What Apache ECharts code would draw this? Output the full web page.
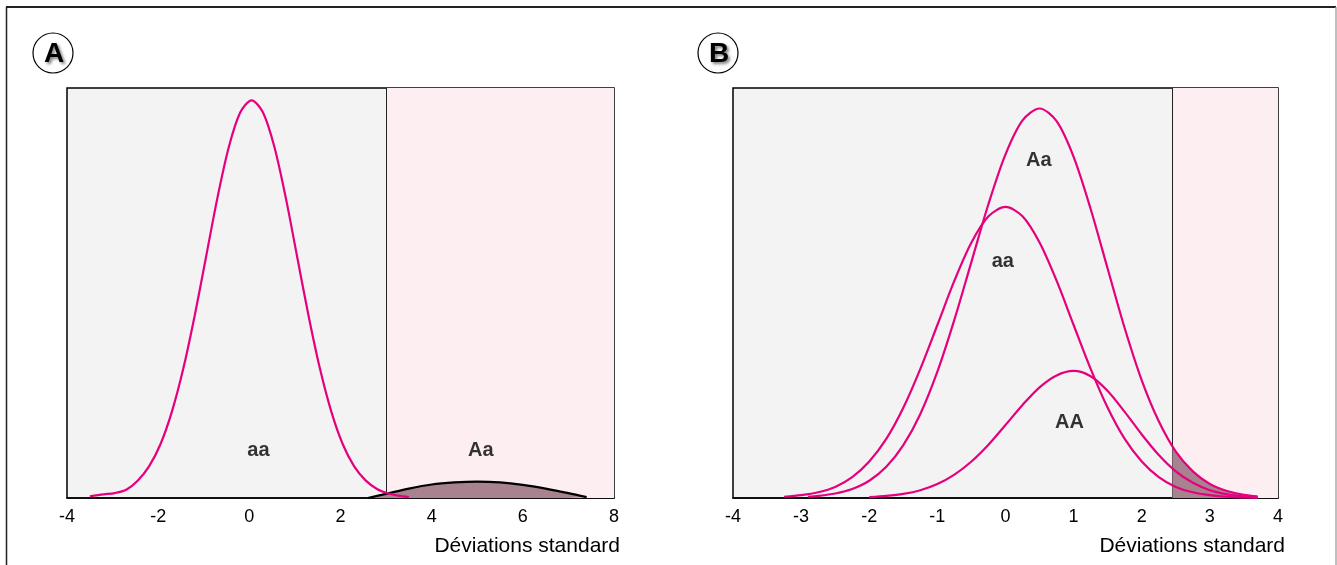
<!DOCTYPE html>
<html>
<head>
<meta charset="utf-8" />
<title>Déviations standard</title>
<script src="https://cdn.jsdelivr.net/npm/echarts@6/dist/echarts.min.js"></script>
<style>
  html, body { margin: 0; padding: 0; background: #fff; }
  #chart { width: 1337px; height: 565px; }
</style>
</head>
<body>
<div id="chart"></div>
<script>
// panel A : aa (pink) and Aa (black, filled)
var xA_aa = [-3.5, -3.2, -2.95, -2.7, -2.45, -2.2, -1.95, -1.7, -1.45, -1.2, -0.95, -0.7, -0.45, -0.2, 0.05,
             0.3, 0.55, 0.8, 1.05, 1.3, 1.55, 1.8, 2.05, 2.3, 2.55, 2.8, 3.05, 3.3, 3.5];
var yA_aa = [0.4, 0.9, 1.2, 2.0, 4.2, 7.7, 13.1, 21.0, 31.5, 44.4, 58.8, 73.2, 85.6, 94.0, 97,
             94.0, 85.6, 73.2, 58.8, 44.4, 31.5, 21.0, 13.1, 7.7, 4.3, 2.2, 1.1, 0.5, 0.2];
var xA_Aa = [2.6, 3, 3.5, 4, 4.5, 5, 5.5, 6, 6.5, 7, 7.4];
var yA_Aa = [0, 1.0, 2.3, 3.3, 3.8, 4.0, 3.8, 3.2, 2.3, 1.2, 0.2];
var threshA = 3;

// panel B : aa, Aa, AA
var xB_aa = [-3.25, -3, -2.75, -2.5, -2.25, -2, -1.75, -1.5, -1.25, -1, -0.75, -0.5, -0.25, 0,
             0.25, 0.5, 0.75, 1, 1.25, 1.5, 1.75, 2, 2.25, 2.5, 2.75, 3, 3.25, 3.5, 3.7];
var yB_aa = [0.3, 0.7, 1.4, 2.7, 5.1, 8.9, 14.4, 22.0, 31.5, 42.2, 53.0, 62.3, 68.7, 71,
             68.7, 62.3, 53.0, 42.2, 31.5, 22.0, 14.4, 8.9, 5.1, 2.7, 1.4, 0.7, 0.3, 0.15, 0.1];
var xB_Aa = [-2.9, -2.75, -2.5, -2.25, -2, -1.75, -1.5, -1.25, -1, -0.75, -0.5, -0.25, 0, 0.25, 0.5,
             0.75, 1, 1.25, 1.5, 1.75, 2, 2.25, 2.5, 2.75, 3, 3.25, 3.5, 3.7];
var yB_Aa = [0.3, 0.5, 1.1, 2.2, 4.2, 7.6, 12.9, 20.5, 30.8, 43.5, 57.6, 71.7, 83.8, 92.1, 95,
             91.9, 83.2, 70.5, 55.9, 41.4, 28.7, 18.7, 11.3, 6.5, 3.4, 1.7, 0.8, 0.4];
var xB_AA = [-2, -1.75, -1.5, -1.25, -1, -0.75, -0.5, -0.25, 0, 0.25, 0.5, 0.75, 1,
             1.25, 1.5, 1.75, 2, 2.25, 2.5, 2.75, 3, 3.25, 3.5, 3.7];
var yB_AA = [0.2, 0.5, 1.0, 1.9, 3.4, 5.7, 8.9, 13.0, 17.8, 22.7, 27.0, 29.9, 31,
             29.7, 26.1, 21.0, 15.5, 10.5, 6.5, 3.7, 1.9, 0.9, 0.4, 0.2];
// shaded tail beyond the threshold
var xB_tail = [2.45, 2.5, 2.75, 3, 3.25, 3.5, 3.7];
var yB_tail = [12.8, 11.3, 6.5, 3.4, 1.7, 0.8, 0.4];
var threshB = 2.45;

// genotype labels [x, y, text]
var labelsA = [[0.2, 11.5, 'aa'], [5.08, 11.7, 'Aa']];
var labelsB = [[0.49, 82.4, 'Aa'], [-0.04, 57.8, 'aa'], [0.94, 18.5, 'AA']];

var PINK = '#e5007e';
var FILL = '#a8838f';
var FONT = 'Liberation Sans';

function pairs(xs, ys) {
  return xs.map(function (x, i) { return [x, ys[i]]; });
}

function curve(name, xs, ys, idx, color, fill) {
  var s = {
    name: name, type: 'line', xAxisIndex: idx, yAxisIndex: idx,
    data: pairs(xs, ys), smooth: 0.3, symbol: 'none', z: 3,
    lineStyle: { color: color, width: 2.2 }
  };
  if (fill) s.areaStyle = { color: FILL, opacity: 1 };
  return s;
}

// background regions + threshold line, hosted by an empty series
function regions(idx, from, to) {
  return {
    type: 'line', xAxisIndex: idx, yAxisIndex: idx, data: [], z: 1,
    markArea: {
      silent: true,
      itemStyle: { color: '#fdeef2' },
      data: [[{ xAxis: from }, { xAxis: to }]]
    },
    markLine: {
      silent: true, symbol: 'none', z: 2,
      label: { show: false },
      lineStyle: { color: '#222', width: 1, type: 'solid' },
      data: [{ xAxis: from }]
    }
  };
}

function labels(idx, list) {
  return {
    type: 'scatter', xAxisIndex: idx, yAxisIndex: idx, data: list, z: 4,
    symbolSize: 1, itemStyle: { color: 'transparent' },
    label: {
      show: true, position: 'inside', color: '#000', fontSize: 20, fontWeight: 'bold',
      textBorderWidth: 0, fontFamily: FONT, formatter: function (p) { return p.data[2]; }
    }
  };
}

function xAxis(idx, min, max, interval) {
  return {
    type: 'value', gridIndex: idx, min: min, max: max, interval: interval,
    axisLine: { show: true, onZero: false, lineStyle: { color: '#000', width: 1.5 } },
    axisTick: { show: false }, splitLine: { show: false },
    axisLabel: { color: '#000', fontSize: 18, fontFamily: FONT, margin: 10 }
  };
}

function yAxis(idx) {
  return { type: 'value', gridIndex: idx, min: 0, max: 100, show: false };
}

function badge(cx, letter) {
  return [
    { type: 'circle', shape: { cx: cx, cy: 53, r: 20 },
      style: { fill: '#fff', stroke: '#000', lineWidth: 1.2 } },
    { type: 'text', x: cx + 1, y: 54,
      style: { text: letter, font: 'bold 28px ' + FONT, fill: '#000', align: 'center', verticalAlign: 'middle',
               textShadowColor: 'rgba(0,0,0,0.5)', textShadowBlur: 3, textShadowOffsetX: 2, textShadowOffsetY: 2 } }
  ];
}

var myChart = echarts.init(document.getElementById('chart'));

var option = {
  animation: false,
  grid: [
    { left: 67, right: 723, top: 88, bottom: 67, show: true,
      backgroundColor: '#f3f3f3', borderColor: '#000', borderWidth: 1.5 },
    { left: 733, right: 59, top: 88, bottom: 67, show: true,
      backgroundColor: '#f3f3f3', borderColor: '#000', borderWidth: 1.5 }
  ],
  xAxis: [xAxis(0, -4, 8, 2), xAxis(1, -4, 4, 1)],
  yAxis: [yAxis(0), yAxis(1)],
  series: [
    regions(0, threshA, 8),
    curve('Aa', xA_Aa, yA_Aa, 0, '#000', true),
    curve('aa', xA_aa, yA_aa, 0, PINK, false),
    labels(0, labelsA),

    regions(1, threshB, 4),
    {
      type: 'line', xAxisIndex: 1, yAxisIndex: 1, data: pairs(xB_tail, yB_tail),
      smooth: 0.3, symbol: 'none', z: 2, lineStyle: { width: 0 },
      areaStyle: { color: FILL, opacity: 1 }
    },
    curve('aa', xB_aa, yB_aa, 1, PINK, false),
    curve('Aa', xB_Aa, yB_Aa, 1, PINK, false),
    curve('AA', xB_AA, yB_AA, 1, PINK, false),
    labels(1, labelsB)
  ],
  graphic: [
    // outer frame
    { type: 'line', shape: { x1: 6, y1: 7, x2: 1336, y2: 7 }, style: { stroke: '#222', lineWidth: 2 } },
    { type: 'line', shape: { x1: 6.5, y1: 7, x2: 6.5, y2: 565 }, style: { stroke: '#222', lineWidth: 1.5 } },
    { type: 'line', shape: { x1: 1336, y1: 7, x2: 1336, y2: 565 }, style: { stroke: '#aaa', lineWidth: 1.5 } },
    // axis titles
    { type: 'text', x: 620, y: 546,
      style: { text: 'Déviations standard', font: '21px ' + FONT, fill: '#000', align: 'right', verticalAlign: 'middle' } },
    { type: 'text', x: 1285, y: 546,
      style: { text: 'Déviations standard', font: '21px ' + FONT, fill: '#000', align: 'right', verticalAlign: 'middle' } }
  ].concat(badge(53, 'A'), badge(718, 'B'))
};

myChart.setOption(option);
</script>
</body>
</html>
